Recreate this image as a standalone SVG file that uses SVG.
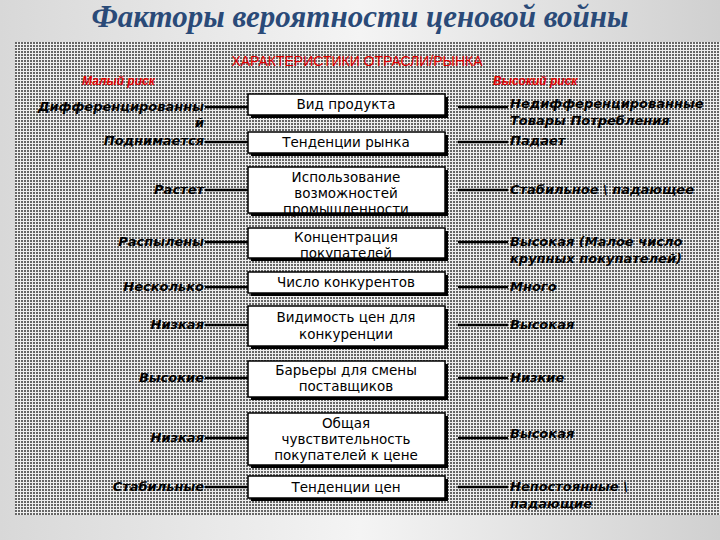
<svg xmlns="http://www.w3.org/2000/svg" width="720" height="540" viewBox="0 0 720 540">
<defs>
<linearGradient id="bg" x1="0" y1="0" x2="1" y2="0"><stop offset="0" stop-color="#d8d8d8"/><stop offset="0.5" stop-color="#f4f4f4"/><stop offset="1" stop-color="#d0d0d0"/></linearGradient>
<pattern id="dots" width="3" height="3" patternUnits="userSpaceOnUse"><rect width="3" height="3" fill="#eee"/><rect width="2" height="2" fill="#666"/></pattern>
</defs>
<style>
.box{fill:#fff;stroke:#000;stroke-width:1.5}
.sh{fill:#000}
.bt{font-family:"DejaVu Sans",sans-serif;font-size:13.5px;text-anchor:middle;fill:#000}
.l{font-family:"DejaVu Sans",sans-serif;font-size:13px;font-style:italic;font-weight:bold;fill:#000}
.r{text-anchor:end}
.red{font-family:"Liberation Sans",sans-serif;fill:#e00000}
line{stroke:#000;stroke-width:2.5}
</style>
<rect width="720" height="540" fill="url(#bg)"/>
<text x="360" y="27" font-family="Liberation Serif,serif" font-size="31" font-style="italic" font-weight="bold" fill="#2a4a78" text-anchor="middle">Факторы вероятности  ценовой войны</text>
<rect x="15" y="42" width="705" height="473" fill="url(#dots)"/>
<text class="red" x="357" y="66" font-size="14" text-anchor="middle">ХАРАКТЕРИСТИКИ ОТРАСЛИ/РЫНКА</text>
<text class="red" x="82" y="85" font-size="12" font-style="italic" font-weight="bold">Малый риск</text>
<text class="red" x="493" y="85" font-size="12" font-style="italic" font-weight="bold">Высокий риск</text>
<g id="connectors">
<line x1="205" y1="107" x2="248" y2="107"/><line x1="458" y1="107" x2="508" y2="107"/>
<line x1="205" y1="142" x2="248" y2="142"/><line x1="458" y1="142" x2="508" y2="142"/>
<line x1="205" y1="190" x2="248" y2="190"/><line x1="458" y1="190" x2="508" y2="190"/>
<line x1="205" y1="242" x2="248" y2="242"/><line x1="458" y1="242" x2="508" y2="242"/>
<line x1="205" y1="287" x2="248" y2="287"/><line x1="458" y1="287" x2="508" y2="287"/>
<line x1="205" y1="325" x2="248" y2="325"/><line x1="458" y1="325" x2="508" y2="325"/>
<line x1="205" y1="378" x2="248" y2="378"/><line x1="458" y1="378" x2="508" y2="378"/>
<line x1="205" y1="438" x2="248" y2="438"/><line x1="458" y1="438" x2="508" y2="438"/>
<line x1="205" y1="487" x2="248" y2="487"/><line x1="458" y1="487" x2="508" y2="487"/>
</g>
<g id="n1"><rect class="sh" x="251" y="97" width="197" height="21"/><rect class="box" x="248" y="94" width="197" height="21"/><text class="bt" x="346" y="109">Вид продукта</text></g>
<g id="n2"><rect class="sh" x="251" y="135" width="197" height="21"/><rect class="box" x="248" y="132" width="197" height="21"/><text class="bt" x="346" y="147">Тенденции рынка</text></g>
<g id="n3"><rect class="sh" x="251" y="170" width="197" height="46"/><rect class="box" x="248" y="167" width="197" height="46"/><text class="bt" x="346" y="182">Использование</text><text class="bt" x="346" y="198">возможностей</text><text class="bt" x="346" y="214">промышленности</text></g>
<g id="n4"><rect class="sh" x="251" y="231" width="197" height="30"/><rect class="box" x="248" y="228" width="197" height="30"/><text class="bt" x="346" y="242">Концентрация</text><text class="bt" x="346" y="258">покупателей</text></g>
<g id="n5"><rect class="sh" x="251" y="275" width="197" height="21"/><rect class="box" x="248" y="272" width="197" height="21"/><text class="bt" x="346" y="287">Число конкурентов</text></g>
<g id="n6"><rect class="sh" x="251" y="309" width="197" height="40"/><rect class="box" x="248" y="306" width="197" height="40"/><text class="bt" x="346" y="322">Видимость цен для</text><text class="bt" x="346" y="339">конкуренции</text></g>
<g id="n7"><rect class="sh" x="251" y="364" width="197" height="36"/><rect class="box" x="248" y="361" width="197" height="36"/><text class="bt" x="346" y="375">Барьеры для смены</text><text class="bt" x="346" y="391">поставщиков</text></g>
<g id="n8"><rect class="sh" x="251" y="416" width="197" height="52"/><rect class="box" x="248" y="413" width="197" height="52"/><text class="bt" x="346" y="428">Общая</text><text class="bt" x="346" y="444">чувствительность</text><text class="bt" x="346" y="460">покупателей к цене</text></g>
<g id="n9"><rect class="sh" x="251" y="479" width="197" height="22"/><rect class="box" x="248" y="476" width="197" height="22"/><text class="bt" x="346" y="492">Тенденции цен</text></g>
<g id="left">
<text class="l r" x="204" y="111">Дифференцированны</text>
<text class="l r" x="204" y="127">й</text>
<text class="l r" x="204" y="145">Поднимается</text>
<text class="l r" x="204" y="194">Растет</text>
<text class="l r" x="204" y="246">Распылены</text>
<text class="l r" x="204" y="291">Несколько</text>
<text class="l r" x="204" y="329">Низкая</text>
<text class="l r" x="204" y="382">Высокие</text>
<text class="l r" x="204" y="442">Низкая</text>
<text class="l r" x="204" y="491">Стабильные</text>
</g>
<g id="right">
<text class="l" x="510" y="108">Недифференцированные</text>
<text class="l" x="510" y="125">Товары Потребления</text>
<text class="l" x="510" y="145">Падает</text>
<text class="l" x="510" y="194">Стабильное \ падающее</text>
<text class="l" x="510" y="246">Высокая (Малое число</text>
<text class="l" x="510" y="263">крупных покупателей)</text>
<text class="l" x="510" y="291">Много</text>
<text class="l" x="510" y="329">Высокая</text>
<text class="l" x="510" y="382">Низкие</text>
<text class="l" x="510" y="438">Высокая</text>
<text class="l" x="510" y="491">Непостоянные \</text>
<text class="l" x="510" y="508">падающие</text>
</g>
</svg>
